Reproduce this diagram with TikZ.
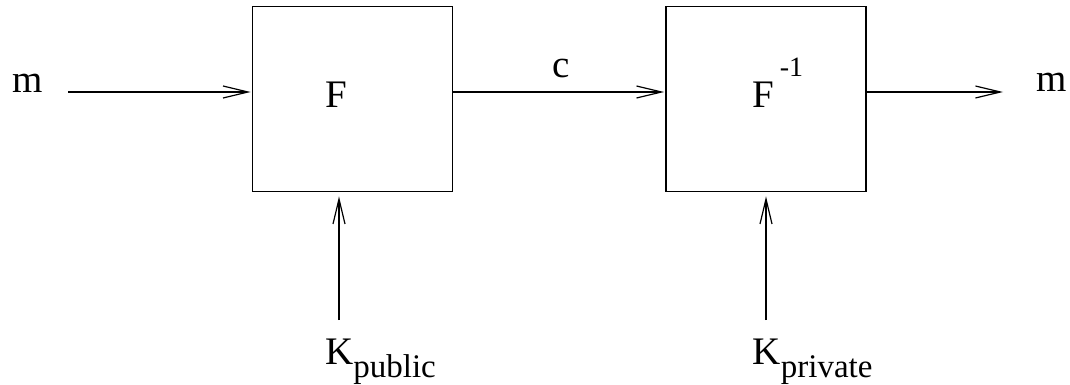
\documentclass[tikz,border=0pt]{standalone}
\usepackage{fontspec}
\setmainfont{Liberation Serif}
\usetikzlibrary{arrows.meta}
\tikzset{
  blk/.style={draw, line width=1.8pt, minimum width=200pt, minimum height=185pt, inner sep=0pt},
  conn/.style={line width=1.2pt, -{Straight Barb[length=25pt,width=12pt,line width=1.2pt]}},
  lbl/.style={anchor=base west, inner sep=0pt, font=\fontsize{39}{39}\selectfont},
}
\begin{document}
\begin{tikzpicture}[x=1pt,y=-1pt]
\useasboundingbox (0,0) rectangle (1070,385);
% boxes
\node[blk] (Fbox) at (352.5,99) {};
\node[blk] (Gbox) at (766,99) {};
% labels
\node[lbl] (Flbl) at (325,107) {F};
\node[lbl] (Glbl) at (752,107) {F\hspace{6pt}\raisebox{30pt}{\fontsize{28}{28}\selectfont -1}};
\node[lbl] (min) at (12,93) {m};
\node[lbl] (mout) at (1036,92) {m};
\node[lbl] (clbl) at (552,78) {c};
\node[lbl] (kpub) at (325,364) {K\raisebox{-13.5pt}{\fontsize{33}{33}\selectfont public}};
\node[lbl] (kpriv) at (752.5,364) {K\raisebox{-13.5pt}{\fontsize{33}{33}\selectfont private}};
% connector ends
\coordinate (inA) at (68,92);
\coordinate (outB) at (1003,92);
\coordinate (kpA) at (339,320);
\coordinate (kpB) at (766,320);
% connectors
\draw[conn, shorten >=1pt] (inA) -- (inA -| Fbox.west);
\draw[conn, shorten >=1pt] (inA -| Fbox.east) -- (inA -| Gbox.west);
\draw[conn] (inA -| Gbox.east) -- (outB);
\draw[conn, shorten >=4pt] (kpA) -- (kpA |- Fbox.south);
\draw[conn, shorten >=4pt] (kpB) -- (kpB |- Gbox.south);
\end{tikzpicture}
\end{document}
